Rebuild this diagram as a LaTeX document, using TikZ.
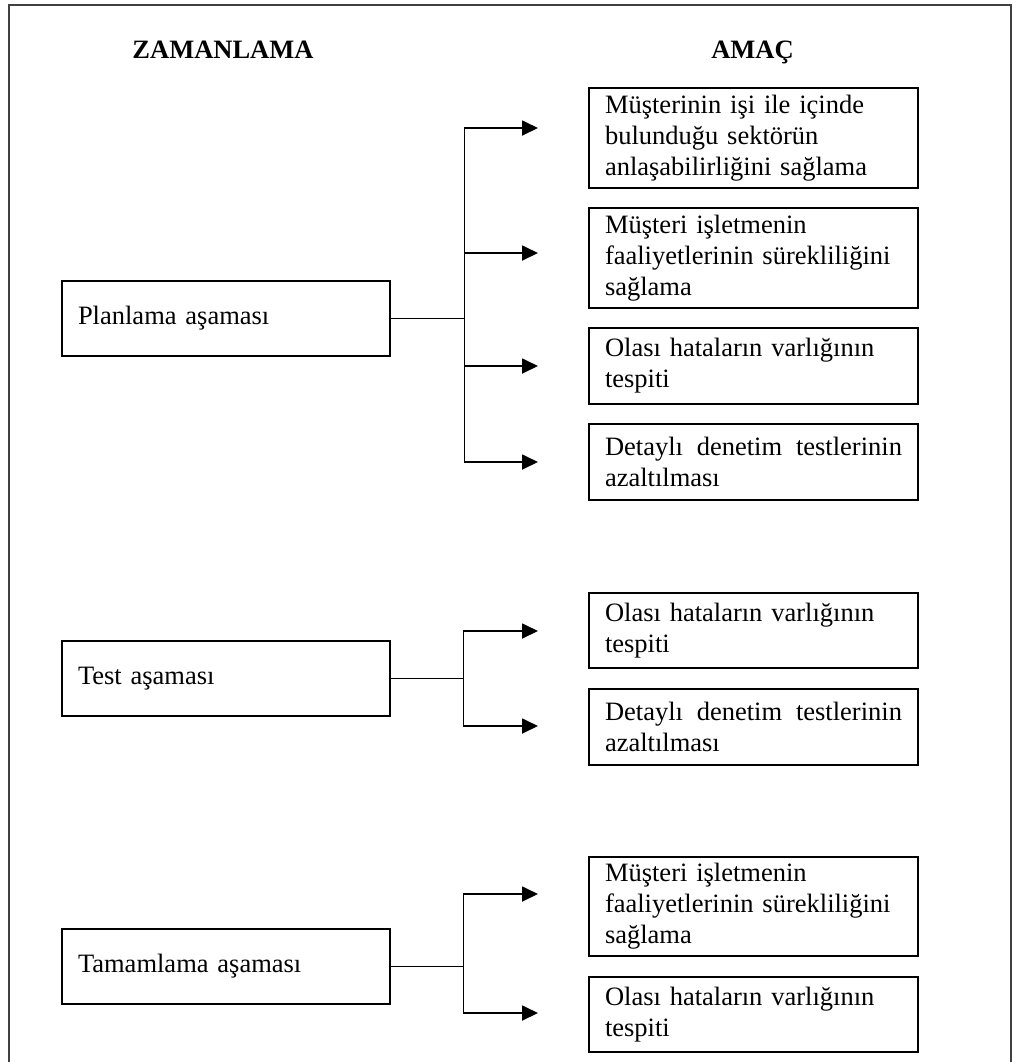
\documentclass[tikz,border=0pt]{standalone}
\usepackage{fontspec}
\setmainfont{Liberation Serif}
\usetikzlibrary{arrows.meta}
\begin{document}
\begin{tikzpicture}[x=0.5pt,y=-0.5pt,
  every node/.style={font=\fontsize{13.25pt}{15.5pt}\selectfont},
  phasebox/.style={draw,line width=1.15pt,minimum width=164pt,minimum height=37.5pt,text width=148pt,inner xsep=8pt,inner ysep=0pt,align=left},
  goalbox/.style={draw,line width=1.15pt,minimum width=164.5pt,text width=148.5pt,inner xsep=8pt,inner ysep=0pt,align=left},
  head/.style={font=\fontsize{13.25pt}{15.5pt}\selectfont\bfseries,anchor=base},
  link/.style={line width=0.9pt},
  arr/.style={line width=0.9pt,-{Triangle[length=8pt,width=7.5pt]}},
  frame/.style={line width=0.65pt,black!75}]
\useasboundingbox (0,0) rectangle (1013,1062);
\draw[frame] (9,1062) -- (9,5) -- (1011,5) -- (1011,1062);

\node[head] (h1) at (223,58) {ZAMANLAMA};
\node[head] (h2) at (752.5,58) {AMAÇ};

% Planlama
\node[phasebox] (plan) at (226,318.5) {Planlama aşaması};
\node[goalbox,minimum height=50pt] (p1) at (753.5,138) {Müşterinin işi ile içinde\\bulunduğu sektörün\\anlaşabilirliğini sağlama};
\node[goalbox,minimum height=50pt] (p2) at (753.5,258) {Müşteri işletmenin\\faaliyetlerinin sürekliliğini\\sağlama};
\node[goalbox,minimum height=38pt] (p3) at (753.5,366) {Olası hataların varlığının\\tespiti};
\node[goalbox,minimum height=38pt] (p4) at (753.5,462) {\hbox to 148.5pt{Detaylı\hfill denetim\hfill testlerinin}\\azaltılması};
\coordinate (pj) at (464.5,318.5);
\coordinate (pt1) at (538,128);
\coordinate (pt2) at (538,253);
\coordinate (pt3) at (538,366);
\coordinate (pt4) at (538,462);
\draw[link] (plan.east) -- (pj);
\draw[arr] (pj) |- (pt1);
\draw[arr] (pj) |- (pt2);
\draw[arr] (pj) |- (pt3);
\draw[arr] (pj) |- (pt4);

% Test
\node[phasebox] (test) at (226,678.5) {Test aşaması};
\node[goalbox,minimum height=37.5pt] (t1) at (753.5,630.5) {Olası hataların varlığının\\tespiti};
\node[goalbox,minimum height=38pt] (t2) at (753.5,727) {\hbox to 148.5pt{Detaylı\hfill denetim\hfill testlerinin}\\azaltılması};
\coordinate (tj) at (463.5,678.5);
\coordinate (tt1) at (538,631);
\coordinate (tt2) at (538,726);
\draw[link] (test.east) -- (tj);
\draw[arr] (tj) |- (tt1);
\draw[arr] (tj) |- (tt2);

% Tamamlama
\node[phasebox] (tam) at (226,966.5) {Tamamlama aşaması};
\node[goalbox,minimum height=49.5pt] (c1) at (753.5,906.5) {Müşteri işletmenin\\faaliyetlerinin sürekliliğini\\sağlama};
\node[goalbox,minimum height=37.5pt] (c2) at (753.5,1014.5) {Olası hataların varlığının\\tespiti};
\coordinate (cj) at (463.5,966.5);
\coordinate (ct1) at (538,894);
\coordinate (ct2) at (538,1013);
\draw[link] (tam.east) -- (cj);
\draw[arr] (cj) |- (ct1);
\draw[arr] (cj) |- (ct2);
\end{tikzpicture}
\end{document}
